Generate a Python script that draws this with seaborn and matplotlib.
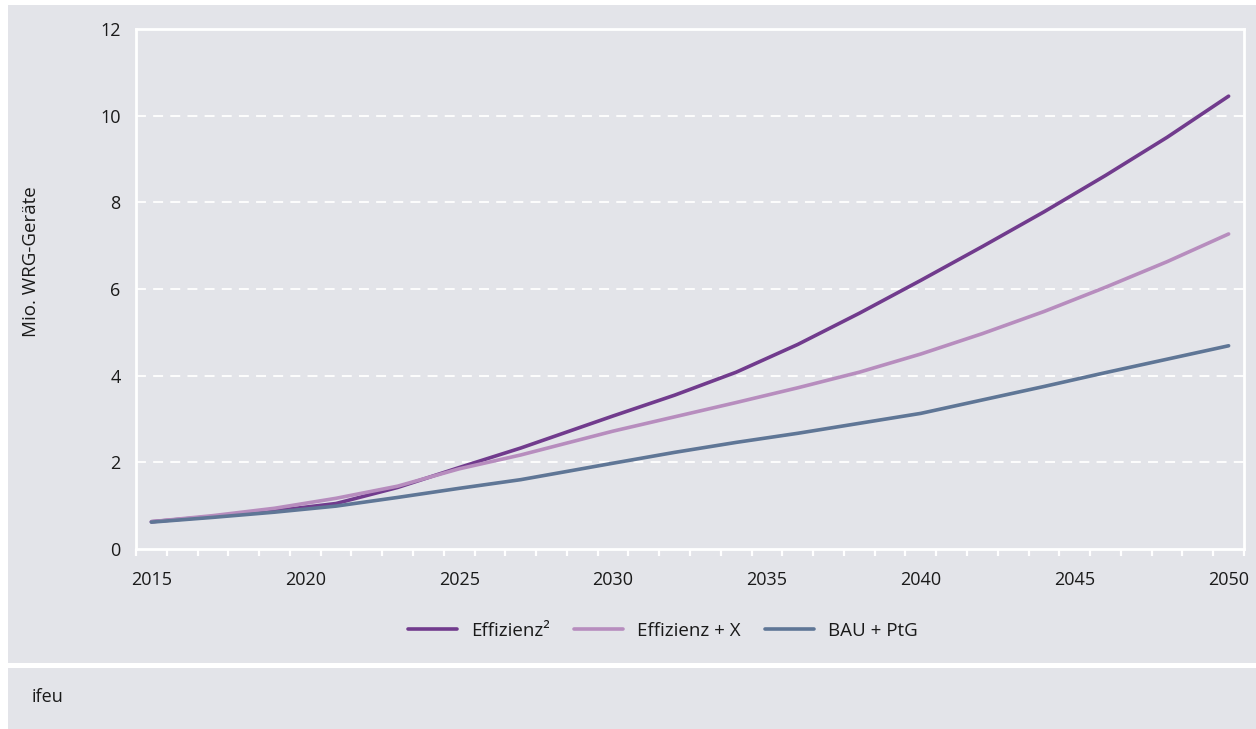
import numpy as np
import pandas as pd
import matplotlib
matplotlib.use("Agg")
import matplotlib.pyplot as plt
from matplotlib.patches import Rectangle
from matplotlib.ticker import FixedLocator
from matplotlib.lines import Line2D
import seaborn as sns

years = [2015, 2017, 2019, 2021, 2023, 2025, 2027, 2030, 2032, 2034, 2036, 2038, 2040, 2042, 2044, 2046, 2048, 2050]
effizienz2 = [0.63, 0.75, 0.88, 1.05, 1.42, 1.88, 2.33, 3.07, 3.55, 4.08, 4.72, 5.44, 6.20, 6.98, 7.78, 8.62, 9.50, 10.45]
effizienz_x = [0.63, 0.77, 0.94, 1.17, 1.45, 1.85, 2.17, 2.72, 3.05, 3.38, 3.72, 4.08, 4.50, 4.97, 5.48, 6.04, 6.63, 7.27]
bau_ptg = [0.62, 0.73, 0.85, 0.99, 1.19, 1.40, 1.60, 1.98, 2.23, 2.46, 2.67, 2.90, 3.13, 3.44, 3.75, 4.07, 4.38, 4.69]
series_names = ["Effizienz²", "Effizienz + X", "BAU + PtG"]
colors = ["#713b8d", "#b78dbe", "#5f7696"]
year_ticks = [2015, 2020, 2025, 2030, 2035, 2040, 2045, 2050]
y_ticks = [0, 2, 4, 6, 8, 10, 12]

df = pd.DataFrame({
    "Jahr": years * 3,
    "Wert": effizienz2 + effizienz_x + bau_ptg,
    "Szenario": [series_names[0]] * len(years) + [series_names[1]] * len(years) + [series_names[2]] * len(years),
})

sns.set_theme(style="white")
plt.rcParams["font.family"] = ["Open Sans", "DejaVu Sans"]

W, H = 1256, 729
bg = "#e3e4e9"
txt = "#1a1a1a"
fig = plt.figure(figsize=(W / 100, H / 100), dpi=100)
fig.patch.set_facecolor("white")
fig.patches.append(Rectangle((8 / W, 1 - 663 / H), 1 - 8 / W, (663 - 5) / H,
                             transform=fig.transFigure, facecolor=bg, edgecolor="none", zorder=-10))
fig.patches.append(Rectangle((8 / W, 0), 1 - 8 / W, (729 - 668) / H,
                             transform=fig.transFigure, facecolor=bg, edgecolor="none", zorder=-10))

ax = fig.add_axes([136 / W, 1 - 549 / H, (1244 - 136) / W, (549 - 29) / H])
ax.set_zorder(1)
ax.set_facecolor(bg)

sns.lineplot(data=df, x="Jahr", y="Wert", hue="Szenario", palette=colors,
             hue_order=series_names, linewidth=2.6, ax=ax, legend=False,
             solid_capstyle="round", solid_joinstyle="round")

ax.set_xlim(2014.5, 2050.5)
ax.set_ylim(0, 12)
ax.set_yticks(y_ticks)
ax.set_xticks(year_ticks)
ax.xaxis.set_minor_locator(FixedLocator(np.arange(2014.5, 2051, 1.0)))
ax.tick_params(axis="x", which="major", length=0, pad=16, labelsize=13, labelcolor=txt)
ax.tick_params(axis="x", which="minor", length=5, width=1.6, color="white", bottom=True)
ax.tick_params(axis="y", length=0, pad=11, labelsize=13, labelcolor=txt)

for g in [2, 4, 6, 8, 10]:
    ax.axhline(g, color="white", linewidth=1.3, linestyle=(0, (5.5, 4)), zorder=0.5)

for s in ax.spines.values():
    s.set_visible(True)
    s.set_color("white")
    s.set_linewidth(2)

ax.set_xlabel("")
ax.set_ylabel("Mio. WRG-Geräte", fontsize=13.5, color=txt)
ax.yaxis.set_label_coords((40 - 136) / 1108, (549 - 262) / 520)

handles = [Line2D([0], [0], color=c, linewidth=2.6, solid_capstyle="round") for c in colors]
fig.legend(handles, series_names, loc="center", bbox_to_anchor=(663 / W, 1 - 631 / H),
           ncol=3, frameon=False, fontsize=13.5, handlelength=2.6, handletextpad=0.75,
           columnspacing=1.3, labelcolor=txt)

fig.text(32 / W, 1 - 697 / H, "ifeu", fontsize=13, color=txt, va="center", ha="left")

fig.savefig("out.png", dpi=100, facecolor=fig.get_facecolor())
